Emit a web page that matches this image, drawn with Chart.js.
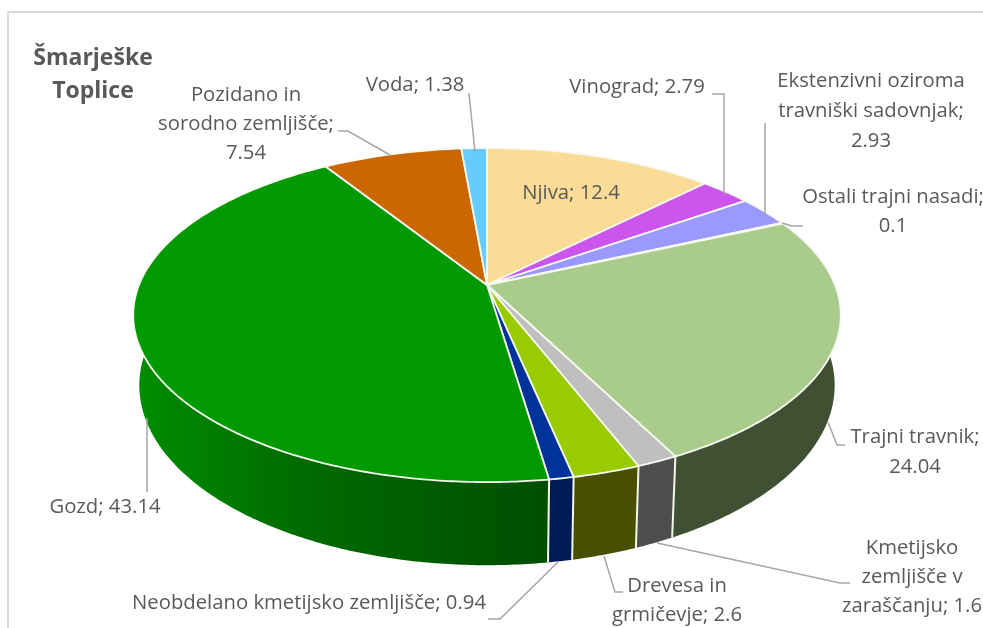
<!DOCTYPE html>
<html>
<head>
<meta charset="utf-8">
<title>Šmarješke Toplice</title>
<script src="https://cdn.jsdelivr.net/npm/chart.js@4"></script>
<style>
  html, body { margin: 0; padding: 0; background: #fff; }
  canvas { display: block; filter: blur(0.4px); }
</style>
</head>
<body>
<canvas id="myChart" width="983" height="628"></canvas>
<script>
// podatki
var categories = ['Njiva', 'Vinograd', 'Ekstenzivni oziroma travniški sadovnjak', 'Ostali trajni nasadi',
    'Trajni travnik', 'Kmetijsko zemljišče v zaraščanju', 'Drevesa in grmičevje',
    'Neobdelano kmetijsko zemljišče', 'Gozd', 'Pozidano in sorodno zemljišče', 'Voda'];
var values = [12.4, 2.79, 2.93, 0.1, 24.04, 1.6, 2.6, 0.94, 43.14, 7.54, 1.38];
var sliceColors = ['#FADC96', '#CC55EE', '#9999FF', '#CCECFF', '#A9CC8C', '#BFBFBF', '#99CC00', '#003399', '#009900', '#CC6600', '#66CCFF'];
var wallColors = ['#7D6E4B', '#662A77', '#4C4C80', '#667680', '#405032', '#4D4D4D', '#485000', '#001A55', '#006000', '#663300', '#336680'];
var titleLines = ['Šmarješke', 'Toplice'];
var labelLines = [
    ['Njiva; 12.4'],
    ['Vinograd; 2.79'],
    ['Ekstenzivni oziroma', 'travniški sadovnjak;', '2.93'],
    ['Ostali trajni nasadi;', '0.1'],
    ['Trajni travnik;', '24.04'],
    ['Kmetijsko', 'zemljišče v', 'zaraščanju; 1.6'],
    ['Drevesa in', 'grmičevje; 2.6'],
    ['Neobdelano kmetijsko zemljišče; 0.94'],
    ['Gozd; 43.14'],
    ['Pozidano in', 'sorodno zemljišče;', '7.54'],
    ['Voda; 1.38']
];

// postavitev napisov: sredina x, y prve vrstice, razmik, nato črta do reza
var labelPlace = [
    { x: 571, y: 193, gap: 0, line: [] },
    { x: 637, y: 87, gap: 0, line: [[712, 94], [724, 94], [724, 195]] },
    { x: 871, y: 81, gap: 30, line: [[765, 123], [765, 217]] },
    { x: 893, y: 197, gap: 29, line: [[782, 223], [792, 226], [803, 226]] },
    { x: 915, y: 437, gap: 30, line: [[828, 422], [837, 445], [845, 445]] },
    { x: 912, y: 548, gap: 29, line: [[657, 543], [840, 583], [850, 583]] },
    { x: 677, y: 586, gap: 29, line: [[604, 556], [615, 592], [623, 592]] },
    { x: 309, y: 603, gap: 0, line: [[558, 562], [500, 619], [488, 619]] },
    { x: 105, y: 507, gap: 0, line: [[147, 418], [147, 492]] },
    { x: 246, y: 95, gap: 29, line: [[338, 131], [348, 131], [390, 155]] },
    { x: 415, y: 85, gap: 0, line: [[469, 93], [475, 152]] }
];

// perspektiva: zgornja in spodnja ploskev tortnega valja
var tilt = 0.18;
var topFace = { cx: 487, cy: 285, a: 348, b: 161.6 };
var bottomFace = { cx: 487, cy: 353, a: 342, b: 174 };

function project(face, angle) {
    var u = Math.cos(angle);
    var v = Math.sin(angle);
    var w = 1 - tilt * v;
    return [face.cx + face.a * u / w, face.cy + face.b * v / w];
}

function rimPoints(face, start, end) {
    var pts = [];
    var steps = Math.max(2, Math.ceil((end - start) / 0.01));
    for (var i = 0; i <= steps; i++) {
        pts.push(project(face, start + (end - start) * i / steps));
    }
    return pts;
}

function tracePoints(ctx, pts) {
    pts.forEach(function (p, i) {
        if (i === 0) ctx.moveTo(p[0], p[1]);
        else ctx.lineTo(p[0], p[1]);
    });
}

var pie3dPlugin = {
    id: 'pie3d',
    beforeDraw: function (chart) {
        var ctx = chart.ctx;
        ctx.save();
        ctx.fillStyle = '#fff';
        ctx.fillRect(0, 0, chart.width, chart.height);
        ctx.strokeStyle = '#D9D9D9';
        ctx.lineWidth = 2;
        ctx.beginPath();
        ctx.moveTo(8, chart.height + 2);
        ctx.lineTo(8, 12);
        ctx.lineTo(chart.width + 2, 12);
        ctx.stroke();
        ctx.restore();
    },
    // Chart.js izračuna kote, rišemo jih sami s perspektivo
    beforeDatasetsDraw: function (chart) {
        var ctx = chart.ctx;
        var arcs = chart.getDatasetMeta(0).data;
        ctx.save();
        ctx.lineJoin = 'round';

        arcs.forEach(function (arc, i) {
            var upper = rimPoints(topFace, arc.startAngle, arc.endAngle);
            var lower = rimPoints(bottomFace, arc.startAngle, arc.endAngle);
            ctx.beginPath();
            tracePoints(ctx, upper.concat(lower.slice().reverse()));
            ctx.closePath();
            if (i === 8) {
                var grad = ctx.createLinearGradient(140, 0, 550, 0);
                grad.addColorStop(0, '#008C00');
                grad.addColorStop(0.4, '#006A00');
                grad.addColorStop(1, '#004E00');
                ctx.fillStyle = grad;
            } else {
                ctx.fillStyle = wallColors[i];
            }
            ctx.fill();
        });

        ctx.strokeStyle = '#F2F7E8';
        ctx.lineWidth = 2;
        arcs.forEach(function (arc) {
            if (Math.sin(arc.startAngle) < 0) return;
            var a = project(topFace, arc.startAngle);
            var b = project(bottomFace, arc.startAngle);
            ctx.beginPath();
            ctx.moveTo(a[0], a[1]);
            ctx.lineTo(b[0], b[1]);
            ctx.stroke();
        });

        arcs.forEach(function (arc, i) {
            var pts = [[topFace.cx, topFace.cy]].concat(rimPoints(topFace, arc.startAngle, arc.endAngle));
            ctx.beginPath();
            tracePoints(ctx, pts);
            ctx.closePath();
            ctx.fillStyle = sliceColors[i];
            ctx.fill();
            ctx.strokeStyle = '#F7FAF0';
            ctx.lineWidth = 1.8;
            ctx.stroke();
        });
        ctx.restore();
        return false;
    },
    afterDraw: function (chart) {
        var ctx = chart.ctx;
        ctx.save();
        ctx.textAlign = 'center';
        ctx.textBaseline = 'middle';

        ctx.strokeStyle = '#A6A6A6';
        ctx.lineWidth = 1.5;
        labelPlace.forEach(function (place) {
            if (!place.line.length) return;
            ctx.beginPath();
            tracePoints(ctx, place.line);
            ctx.stroke();
        });

        ctx.fillStyle = '#595959';
        ctx.font = '20.3px "Open Sans"';
        labelLines.forEach(function (lines, i) {
            lines.forEach(function (text, j) {
                ctx.fillText(text, labelPlace[i].x, labelPlace[i].y + j * labelPlace[i].gap);
            });
        });

        ctx.font = 'bold 23px "Open Sans"';
        ctx.fillText(titleLines[0], 93, 58);
        ctx.fillText(titleLines[1], 93, 91);
        ctx.restore();
    }
};

var myChart = new Chart(document.getElementById('myChart').getContext('2d'), {
    type: 'pie',
    data: {
        labels: categories,
        datasets: [{ data: values, backgroundColor: sliceColors, borderWidth: 0 }]
    },
    options: {
        responsive: false,
        animation: false,
        events: [],
        plugins: {
            legend: { display: false },
            tooltip: { enabled: false }
        }
    },
    plugins: [pie3dPlugin]
});
</script>
</body>
</html>
